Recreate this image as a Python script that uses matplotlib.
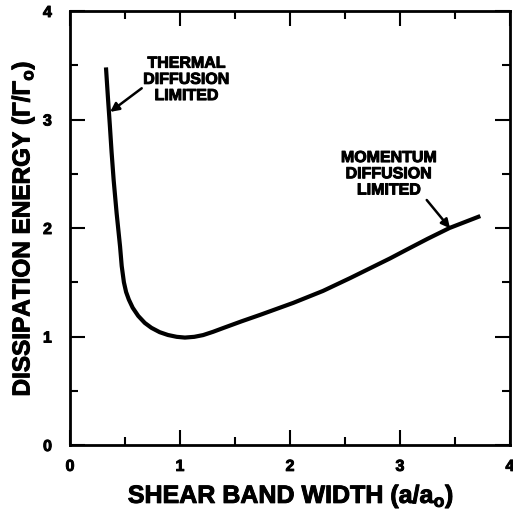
import matplotlib
matplotlib.use("Agg")
import matplotlib.pyplot as plt
from matplotlib.ticker import MultipleLocator
import matplotlib.patheffects as pe

# Data
shear_width = [0.327, 0.345, 0.362, 0.378, 0.397, 0.424, 0.455, 0.47, 0.49,
               0.51, 0.535, 0.57, 0.62, 0.68, 0.74, 0.815, 0.89, 0.97, 1.045,
               1.13, 1.21, 1.30, 1.39, 1.56, 1.73, 2.03, 2.30, 2.55, 2.91, 3.06,
               3.25, 3.45, 3.73]
dissipation = [3.48, 3.20, 2.95, 2.70, 2.44, 2.135, 1.83, 1.65, 1.50,
               1.41, 1.34, 1.265, 1.19, 1.125, 1.08, 1.04, 1.014, 0.997, 0.99,
               0.997, 1.013, 1.043, 1.077, 1.14, 1.20, 1.31, 1.42, 1.54, 1.72,
               1.80, 1.90, 2.00, 2.11]

x_ticks = [0, 1, 2, 3, 4]
y_ticks = [0, 1, 2, 3, 4]

thermal_label = 'THERMAL\nDIFFUSION\nLIMITED'
thermal_text_pos = (1.06, 3.37)
thermal_arrow_from = (0.652, 3.288)
thermal_arrow_to = (0.365, 3.07)

momentum_label = 'MOMENTUM\nDIFFUSION\nLIMITED'
momentum_text_pos = (2.90, 2.50)
momentum_arrow_from = (3.243, 2.258)
momentum_arrow_to = (3.455, 1.997)

plt.rcParams['font.family'] = ['Liberation Sans', 'DejaVu Sans']
plt.rcParams['mathtext.fontset'] = 'custom'
plt.rcParams['mathtext.rm'] = 'Liberation Sans:bold'
plt.rcParams['mathtext.bf'] = 'Liberation Sans:bold'
plt.rcParams['mathtext.it'] = 'Liberation Sans:bold'

heavy = [pe.withStroke(linewidth=0.7, foreground='black')]

fig = plt.figure(figsize=(5.13, 5.14), dpi=100)
ax = fig.add_axes([70/513, 1 - 445/514, 440/513, 434/514])

ax.plot(shear_width, dissipation, color='black', lw=3.0,
        solid_capstyle='butt', solid_joinstyle='round')

ax.set_xlim(0, 4)
ax.set_ylim(0, 4)
ax.set_xticks(x_ticks)
ax.set_yticks(y_ticks)
ax.xaxis.set_minor_locator(MultipleLocator(0.5))
ax.yaxis.set_minor_locator(MultipleLocator(0.5))
ax.tick_params(which='both', direction='in', top=True, right=True, width=1.5,
               labeltop=False, labelright=False)
ax.tick_params(which='major', length=11, labelsize=11.5)
ax.tick_params(axis='x', which='major', pad=10)
ax.tick_params(axis='y', which='major', pad=13)
ax.tick_params(which='minor', length=6)
for lab in ax.get_xticklabels() + ax.get_yticklabels():
    lab.set_fontweight('bold')
    lab.set_path_effects(heavy)
for s in ax.spines.values():
    s.set_linewidth(2.0)

xl = ax.set_xlabel(r'SHEAR BAND WIDTH (a/a$_\mathrm{o}$)', fontsize=18,
                   fontweight='bold', va='baseline')
ax.xaxis.set_label_coords(291/513, 11/514, transform=fig.transFigure)
yl = ax.set_ylabel(r'DISSIPATION ENERGY ($\Gamma$/$\Gamma_\mathrm{o}$)',
                   fontsize=17.5, fontweight='bold', va='center')
ax.yaxis.set_label_coords(23/513, 285/514, transform=fig.transFigure)
xl.set_path_effects(heavy)
yl.set_path_effects(heavy)

for label, pos in [(thermal_label, thermal_text_pos),
                   (momentum_label, momentum_text_pos)]:
    ax.text(pos[0], pos[1], label, ha='center', va='center', fontsize=11.5,
            fontweight='bold', linespacing=1.1, path_effects=heavy)

for a_from, a_to in [(thermal_arrow_from, thermal_arrow_to),
                     (momentum_arrow_from, momentum_arrow_to)]:
    ax.annotate('', xy=a_to, xytext=a_from,
                arrowprops=dict(arrowstyle='-|>', color='black', lw=1.8,
                                mutation_scale=13, shrinkA=0, shrinkB=0))

fig.savefig('out.png', dpi=100)
